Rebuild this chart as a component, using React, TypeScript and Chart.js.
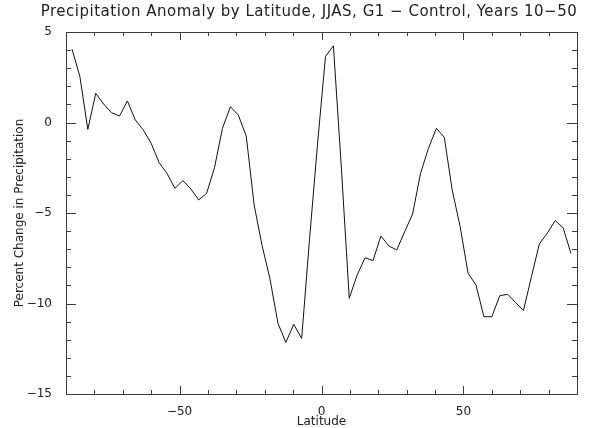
import React, { useEffect, useRef } from "react";
import { Chart, registerables } from "chart.js";

Chart.register(...registerables);

const TITLE = "Precipitation Anomaly by Latitude, JJAS, G1 \u2212 Control, Years 10\u221250";
const X_TITLE = "Latitude";
const Y_TITLE = "Percent Change in Precipitation";

// Gaussian latitudes of the model grid (degrees)
const LATITUDES = [
  -87.86, -85.1, -82.31, -79.53, -76.74, -73.95, -71.16, -68.37,
  -65.58, -62.79, -60.0, -57.21, -54.42, -51.63, -48.84, -46.04,
  -43.25, -40.46, -37.67, -34.88, -32.09, -29.3, -26.51, -23.72,
  -20.93, -18.14, -15.35, -12.56, -9.77, -6.98, -4.19, -1.4,
  1.4, 4.19, 6.98, 9.77, 12.56, 15.35, 18.14, 20.93,
  23.72, 26.51, 29.3, 32.09, 34.88, 37.67, 40.46, 43.25,
  46.04, 48.84, 51.63, 54.42, 57.21, 60.0, 62.79, 65.58,
  68.37, 71.16, 73.95, 76.74, 79.53, 82.31, 85.1, 87.86,
];

// Zonal-mean JJAS precipitation change, G1 minus control (%)
const PRECIP_CHANGE = [
  4.05, 2.53, -0.38, 1.61, 1.02, 0.54, 0.36, 1.19,
  0.14, -0.41, -1.15, -2.22, -2.81, -3.64, -3.21, -3.67,
  -4.28, -3.91, -2.48, -0.32, 0.87, 0.41, -0.75, -4.56,
  -6.8, -8.65, -11.09, -12.15, -11.15, -11.93, -6.4, -1.2,
  3.64, 4.24, -2.46, -9.71, -8.43, -7.47, -7.63, -6.27,
  -6.82, -7.04, -6.03, -5.06, -2.81, -1.43, -0.32, -0.82,
  -3.73, -5.75, -8.33, -8.98, -10.73, -10.73, -9.57, -9.49,
  -9.95, -10.38, -8.52, -6.71, -6.12, -5.42, -5.81, -7.23,
];

const X_LABEL_TICKS = [-50, 0, 50];
const Y_LABEL_TICKS = [-15, -10, -5, 0, 5];

const X_MIN = -90;
const X_MAX = 90;
const Y_MIN = -15;
const Y_MAX = 5;

const FONT = "'DejaVu Sans', sans-serif";
const TEXT_COLOR = "#222";
const FRAME_COLOR = "#3c3c3c";

const fmt = (v: number) => String(v).replace("-", "\u2212");

// Box frame with inward-pointing major/minor ticks on all four sides, plus the plot title
const frameTicks = {
  id: "frameTicks",
  afterDraw(chart: any) {
    const { ctx, chartArea: a, scales } = chart;
    const xs = scales.x;
    const ys = scales.y;
    ctx.save();
    ctx.strokeStyle = FRAME_COLOR;
    ctx.lineWidth = 1;
    ctx.strokeRect(Math.round(a.left) + 0.5, Math.round(a.top) + 0.5,
      Math.round(a.right - a.left), Math.round(a.bottom - a.top));
    ctx.beginPath();
    for (let v = X_MIN + 10; v < X_MAX; v += 10) {
      const len = v % 50 === 0 ? 8 : 4;
      const px = Math.round(xs.getPixelForValue(v)) + 0.5;
      ctx.moveTo(px, a.bottom);
      ctx.lineTo(px, a.bottom - len);
      ctx.moveTo(px, a.top);
      ctx.lineTo(px, a.top + len);
    }
    for (let v = Y_MIN + 1; v < Y_MAX; v += 1) {
      const len = v % 5 === 0 ? 10 : 5;
      const py = Math.round(ys.getPixelForValue(v)) + 0.5;
      ctx.moveTo(a.left, py);
      ctx.lineTo(a.left + len, py);
      ctx.moveTo(a.right, py);
      ctx.lineTo(a.right - len, py);
    }
    ctx.stroke();

    ctx.fillStyle = TEXT_COLOR;
    ctx.font = `15px ${FONT}`;
    (ctx as any).letterSpacing = "0.5px";
    ctx.textAlign = "center";
    ctx.textBaseline = "middle";
    ctx.fillText(TITLE, 309, 12);
    ctx.restore();
  },
};

export default function App() {
  const canvasRef = useRef<HTMLCanvasElement | null>(null);

  useEffect(() => {
    if (!canvasRef.current) return;
    const chart = new Chart(canvasRef.current, {
      type: "line",
      data: {
        datasets: [
          {
            data: LATITUDES.map((lat, i) => ({ x: lat, y: PRECIP_CHANGE[i] })),
            borderColor: "#111",
            borderWidth: 1,
            pointRadius: 0,
            fill: false,
            tension: 0,
          },
        ],
      },
      options: {
        responsive: false,
        animation: false,
        layout: { padding: { top: 32, right: 20, left: 0, bottom: 0 } },
        plugins: {
          legend: { display: false },
          title: { display: false },
          tooltip: { enabled: false },
        },
        scales: {
          x: {
            type: "linear",
            min: X_MIN,
            max: X_MAX,
            grid: { display: false },
            border: { display: false },
            afterBuildTicks: (s: any) => {
              s.ticks = X_LABEL_TICKS.map((v) => ({ value: v }));
            },
            afterFit: (s: any) => {
              s.height = 34;
            },
            ticks: {
              color: TEXT_COLOR,
              font: { family: FONT, size: 12 },
              padding: 3,
              maxRotation: 0,
              callback: (v: any) => fmt(Number(v)),
            },
            title: {
              display: true,
              text: X_TITLE,
              color: TEXT_COLOR,
              font: { family: FONT, size: 12, lineHeight: 1 },
              padding: { top: 0, bottom: 0 },
            },
          },
          y: {
            type: "linear",
            min: Y_MIN,
            max: Y_MAX,
            grid: { display: false },
            border: { display: false },
            afterBuildTicks: (s: any) => {
              s.ticks = Y_LABEL_TICKS.map((v) => ({ value: v }));
            },
            afterFit: (s: any) => {
              s.width = 66;
            },
            ticks: {
              color: TEXT_COLOR,
              font: { family: FONT, size: 12 },
              padding: 6,
              callback: (v: any) => fmt(Number(v)),
            },
            title: {
              display: true,
              text: Y_TITLE,
              color: TEXT_COLOR,
              font: { family: FONT, size: 12, lineHeight: 1 },
              padding: { top: 14, bottom: 0 },
            },
          },
        },
      },
      plugins: [frameTicks],
    });
    return () => chart.destroy();
  }, []);

  return (
    <div style={{ position: "absolute", left: 0, top: 0, width: 597, height: 428, background: "#fff" }}>
      <canvas ref={canvasRef} width={597} height={428} style={{ display: "block" }} />
    </div>
  );
}
